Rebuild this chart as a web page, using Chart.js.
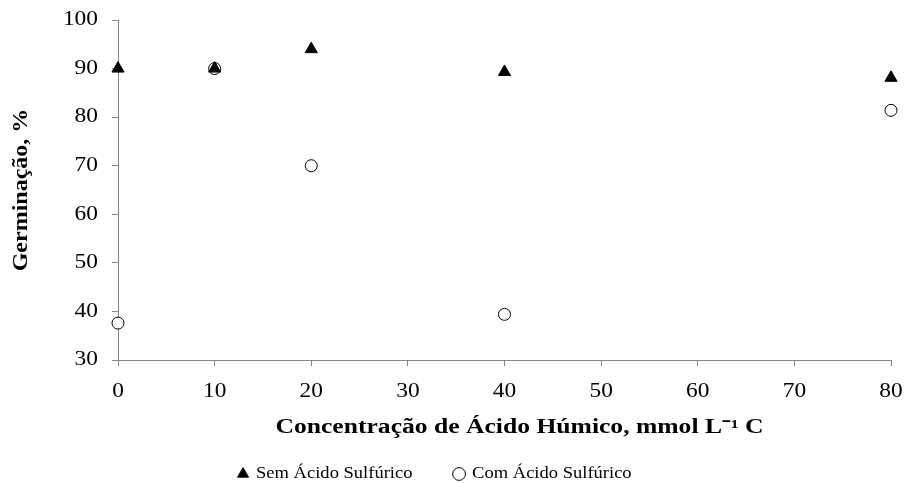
<!DOCTYPE html>
<html>
<head>
<meta charset="utf-8">
<script src="https://cdn.jsdelivr.net/npm/chart.js@4/dist/chart.umd.min.js"></script>
<style>
  html, body { margin: 0; padding: 0; background: #fff; }
  #wrap { width: 904px; height: 483px; position: relative; }
</style>
</head>
<body>
<div id="wrap"><canvas id="c" width="904" height="483"></canvas></div>
<script>
const concentrations = [0, 10, 20, 40, 80];
const semAcido = [90, 90, 94, 89.3, 88.1];
const comAcido = [37.6, 90, 70, 39.4, 81.4];
const seriesNames = ['Sem Ácido Sulfúrico', 'Com Ácido Sulfúrico'];
const xTitle = 'Concentração de Ácido Húmico, mmol L⁻¹ C';
const yTitle = 'Germinação, %';

const toPoints = (xs, ys) => xs.map((x, i) => ({ x: x, y: ys[i] }));
const serif = "'Liberation Serif', 'Times New Roman', serif";
const axisColor = '#868686';

const canvas = document.getElementById('c');
const ctx2d = canvas.getContext('2d');
// the reference glyphs are horizontally wide: stretch text about its anchor point
const origFillText = ctx2d.fillText;
ctx2d.fillText = function (text, x, y, maxW) {
  const f = this.font;
  let sx = 1;
  if (text === xTitle) { sx = 1.28; x += 15; }
  else if (text === yTitle) sx = 1.2;
  else if (/\b20px/.test(f)) sx = 1.17;
  else if (/\b17px/.test(f)) sx = 1.09;
  if (sx === 1) {
    return (maxW === undefined) ? origFillText.call(this, text, x, y) : origFillText.call(this, text, x, y, maxW);
  }
  this.save();
  this.translate(x, y);
  this.scale(sx, 1);
  origFillText.call(this, text, 0, 0);
  this.restore();
};

const legendGap = 55;
const legendShift = { x: -22, y: -29.5 };
const legendHeight = 43;

const chart = new Chart(canvas, {
  type: 'scatter',
  data: {
    datasets: [
      {
        label: seriesNames[0],
        data: toPoints(concentrations, semAcido),
        pointStyle: 'triangle',
        pointRadius: 7,
        pointHoverRadius: 7,
        backgroundColor: '#000',
        borderColor: '#000',
        borderWidth: 1,
        clip: false
      },
      {
        label: seriesNames[1],
        data: toPoints(concentrations, comAcido),
        pointStyle: 'circle',
        pointRadius: 6,
        pointHoverRadius: 6,
        backgroundColor: '#fff',
        borderColor: '#000',
        borderWidth: 1,
        clip: false
      }
    ]
  },
  options: {
    responsive: false,
    animation: false,
    devicePixelRatio: 1,
    layout: { padding: { top: 20, right: 13, left: 10, bottom: 0 } },
    plugins: {
      tooltip: { enabled: false },
      legend: {
        position: 'bottom',
        labels: {
          usePointStyle: true,
          boxWidth: 9,
          boxHeight: 9,
          padding: legendGap,
          color: '#000',
          font: { family: serif, size: 17 }
        }
      }
    },
    scales: {
      x: {
        type: 'linear',
        min: 0,
        max: 80,
        ticks: { stepSize: 10, color: '#000', font: { family: serif, size: 20 }, padding: 14, maxRotation: 0 },
        grid: { display: true, drawOnChartArea: false, tickLength: 6, color: axisColor },
        border: { display: true, color: axisColor, width: 1 },
        title: { display: true, text: xTitle, color: '#000', font: { family: serif, size: 20, weight: 'bold' }, padding: { top: 0, bottom: 0 } },
        afterFit: function (s) { s.height = 80; s.paddingLeft = 0; s.paddingRight = 0; }
      },
      y: {
        type: 'linear',
        min: 30,
        max: 100,
        ticks: { stepSize: 10, color: '#000', font: { family: serif, size: 20 }, padding: 14 },
        grid: { display: true, drawOnChartArea: false, tickLength: 6, color: axisColor },
        border: { display: true, color: axisColor, width: 1 },
        title: { display: true, text: yTitle, color: '#000', font: { family: serif, size: 20, weight: 'bold' }, padding: { top: 0, bottom: 0 } },
        afterFit: function (s) { s.width = 108; s.paddingTop = 0; s.paddingBottom = 0; }
      }
    }
  }
});

// place the legend row: move its box (and clip region) so the row sits where the reference has it
const lg = chart.legend;
const lgFit = lg.fit;
lg.fit = function () { lgFit.call(this); this.height = legendHeight; };
const lgDraw = lg.draw;
lg.draw = function () {
  const t = this.top, l = this.left, r = this.right;
  this.top = t + legendShift.y;
  this.left = l + legendShift.x;
  this.right = r + legendShift.x;
  lgDraw.call(this);
  this.top = t; this.left = l; this.right = r;
};
chart.update();
</script>
</body>
</html>
